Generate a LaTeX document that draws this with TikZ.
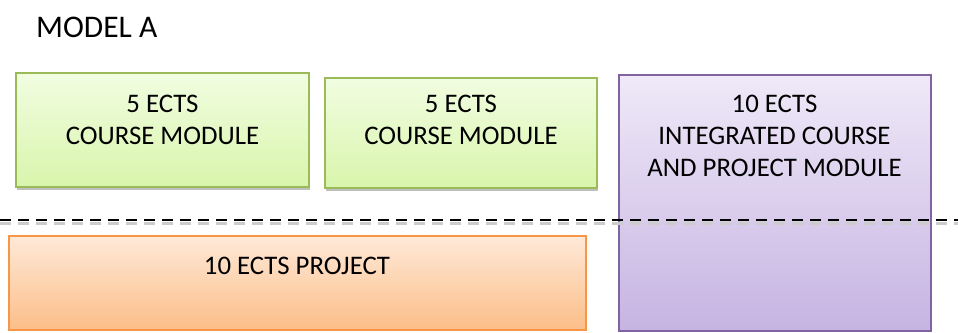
\documentclass[tikz,border=0pt]{standalone}
\usepackage{fontspec}
\setmainfont{Carlito}
\usepackage{xcolor}
\usetikzlibrary{positioning,shadows}

\definecolor{greenline}{HTML}{9BBB59}
\definecolor{greentop}{HTML}{F1FDE1}
\definecolor{greenbot}{HTML}{D9F5AC}
\definecolor{orangeline}{HTML}{F79646}
\definecolor{orangetop}{HTML}{FEE9D8}
\definecolor{orangebot}{HTML}{FCBE88}
\definecolor{purpleline}{HTML}{8064A2}
\definecolor{purpletop}{HTML}{EFE9F8}
\definecolor{purplebot}{HTML}{C6B4E2}

\tikzset{
  modbox/.style={rectangle, draw, line width=2pt, inner sep=0pt},
  coursebox/.style={modbox, draw=greenline, top color=greentop, bottom color=greenbot,
    drop shadow={shadow xshift=1pt, shadow yshift=-3pt, fill=black!25, opacity=1}},
  projbox/.style={modbox, draw=orangeline, top color=orangetop, bottom color=orangebot},
  intbox/.style={modbox, draw=purpleline, top color=purpletop, bottom color=purplebot},
  boxtext/.style={align=center, inner sep=0pt, font=\fontsize{26.8}{32}\selectfont},
  splitline/.style={line width=2.4pt, dash pattern=on 11pt off 7pt},
}

\begin{document}
\begin{tikzpicture}[x=1pt,y=-1pt]
        \useasboundingbox (0,0) rectangle (958,332);
        % title
        \node[anchor=west, inner sep=0pt, font=\fontsize{31.5}{38}\selectfont] (title) at (36,27) {MODEL A};
        % boxes
        \node[coursebox, minimum width=293pt, minimum height=114pt] (c1) at (162.5,130) {};
        \node[coursebox, minimum width=272pt, minimum height=110pt] (c2) at (461,133) {};
        \node[projbox, minimum width=577pt, minimum height=94pt] (pr) at (297,283) {};
        \node[intbox, minimum width=312pt, minimum height=256pt] (im) at (774.5,203) {};
        % texts
        \node[boxtext, below=23pt of c1.north] (t1) {5 ECTS\\COURSE MODULE};
        \node[boxtext, below=18pt of c2.north] (t2) {5 ECTS\\COURSE MODULE};
        \node[boxtext, below=21pt of im.north] (t3) {10 ECTS\\INTEGRATED COURSE\\AND PROJECT MODULE};
        \node[boxtext, below=22pt of pr.north] (t4) {10 ECTS PROJECT};
        % dashed split
        \coordinate (sl) at (0,220);
        \coordinate (sr) at (958,220);
        \draw[splitline, black!20, transform canvas={yshift=-3.5pt}] (sl) -- (sr);
        \draw[splitline] (sl) -- (sr);
\end{tikzpicture}
\end{document}
